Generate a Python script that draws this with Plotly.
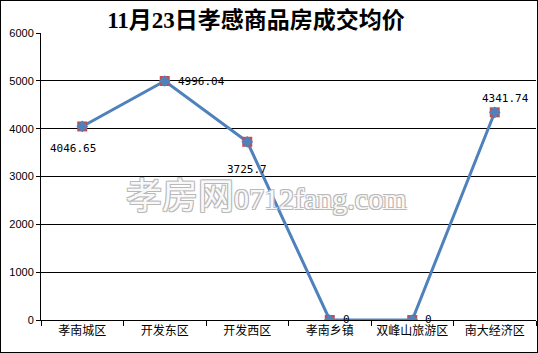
import plotly.graph_objects as go

categories = ["孝南城区", "开发东区", "开发西区", "孝南乡镇", "双峰山旅游区", "南大经济区"]
prices = [4046.65, 4996.04, 3725.7, 0, 0, 4341.74]
label_text = ["4046.65", "4996.04", "3725.7", "0", "0", "4341.74"]
label_dx = [-9, 37, 0, 17, 16, 11]
label_dy = [-22, 0, -28, 1, 1, 14]
title_text = "11月23日孝感商品房成交均价"
watermark_cn = "孝房网"
watermark_en = "0712fang.com"
y_ticks = [0, 1000, 2000, 3000, 4000, 5000, 6000]

fig = go.Figure()
fig.add_trace(go.Scatter(
    x=categories, y=prices, mode="lines",
    line=dict(color="#4f81bd", width=3), hoverinfo="skip", showlegend=False))
fig.add_trace(go.Scatter(
    x=categories, y=prices, mode="markers",
    marker=dict(symbol="square", size=10, color="#c0504d", line=dict(width=0)),
    showlegend=False))
fig.add_trace(go.Scatter(
    x=categories, y=prices, mode="markers",
    marker=dict(symbol="diamond", size=9, color="#4f81bd"),
    showlegend=False))

outline = "-1px -1px 0 #b8b8b8, 1px -1px 0 #b8b8b8, -1px 1px 0 #b8b8b8, 1px 1px 0 #b8b8b8"
annotations = [
    dict(text="<span style='font-family:Noto Sans CJK SC;font-size:36px'>" + watermark_cn + "</span>" + watermark_en,
         x=0.455, y=0.4425, xref="paper", yref="paper", showarrow=False,
         font=dict(family="Liberation Serif", size=30, color="#f8f8f8", shadow=outline)),
]
for c, v, t, dx, dy in zip(categories, prices, label_text, label_dx, label_dy):
    annotations.append(dict(text=t, x=c, y=v, xref="x", yref="y", showarrow=False,
                            xshift=dx, yshift=dy,
                            font=dict(family="DejaVu Sans Mono, monospace", size=11, color="#000000")))

fig.update_layout(
    width=538, height=353,
    margin=dict(l=41, r=2, t=33, b=33),
    paper_bgcolor="#ffffff", plot_bgcolor="#ffffff",
    title=dict(text="<b>" + title_text + "</b>", x=256/538, xanchor="center", y=1-20/353, yanchor="middle",
               font=dict(family="Liberation Serif, Noto Sans CJK SC", size=23, color="#000000")),
    xaxis=dict(type="category", showgrid=False, showline=True, linecolor="#000000", linewidth=1,
               ticks="outside", ticklen=5, tickcolor="#000000", tickson="boundaries",
               tickfont=dict(family="Noto Sans CJK SC", size=12, color="#000000"),
               range=[-0.5, 5.5], fixedrange=True),
    yaxis=dict(range=[0, 6000], tickvals=y_ticks, showgrid=True, gridcolor="#000000", gridwidth=1,
               showline=True, linecolor="#000000", linewidth=1, ticks="outside", ticklen=4,
               tickcolor="#000000", zeroline=False,
               tickfont=dict(family="Liberation Sans, Arial", size=11, color="#000000")),
    shapes=[dict(type="rect", xref="paper", yref="paper", x0=-41/495, x1=1+2/495, y0=-33/287, y1=1+33/287,
                 line=dict(color="#000000", width=2))],
    annotations=annotations,
)

fig.write_html("out.html")
